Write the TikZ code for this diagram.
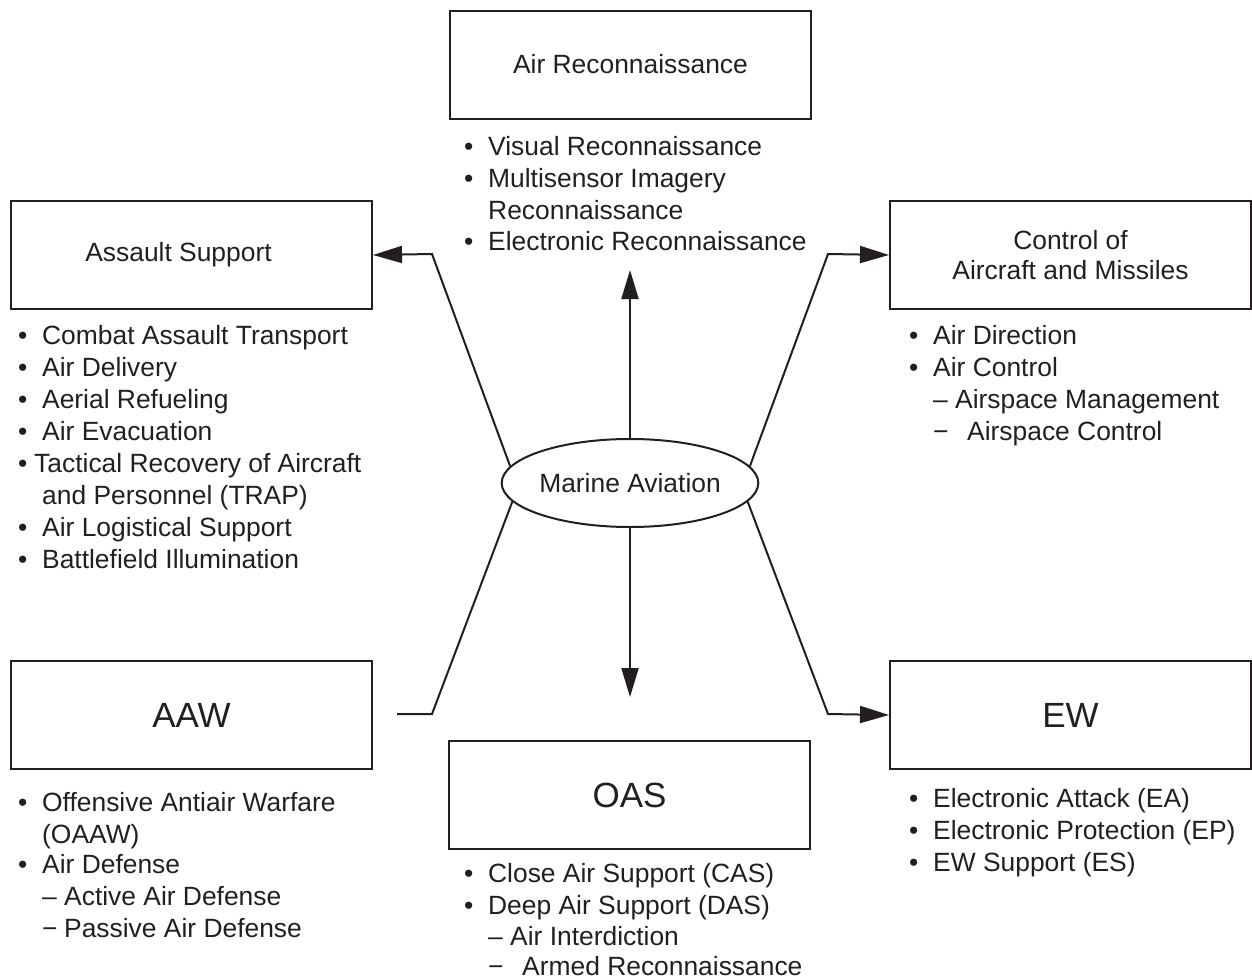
\documentclass[tikz,border=0pt]{standalone}
\usepackage{fontspec}
\setmainfont{Liberation Sans}
\usetikzlibrary{arrows.meta,shapes.geometric}
\definecolor{ink}{HTML}{231F20}
% bullet / dash markers of fixed width so the item texts line up
\newcommand\bl[1]{\makebox[#1][l]{•}}
\newcommand\dl[1]{\makebox[#1][l]{–}}
\newcommand\ml[1]{\makebox[#1][l]{−}}
\newcommand\lbl{\fontsize{26.4}{31.7}\selectfont}
\newcommand\bigtitle{\fontsize{35}{42}\selectfont}
\begin{document}
\begin{tikzpicture}[x=1pt,y=-1pt,
  box/.style={draw=ink,line width=2pt,minimum width=361pt,minimum height=108pt,
    inner sep=0pt,anchor=north west,font=\lbl,text=ink,align=center},
  bigbox/.style={box,font=\bigtitle},
  li/.style={anchor=base west,inner sep=0pt,font=\lbl,text=ink},
  conn/.style={draw=ink,line width=2pt},
  arr/.style={-{Triangle[length=29pt,width=17pt]}}]
\useasboundingbox (0,0) rectangle (1252,979);

% central ellipse
\node[ellipse,draw=ink,line width=2pt,minimum width=240pt,minimum height=88pt,
  inner sep=0pt,font=\lbl,text=ink] (ma) at (630,483) {Marine Aviation};

% function boxes
\node[box] (ar) at (449,10) {\raisebox{3pt}{Air Reconnaissance}};
\node[box] (as) at (10,200) {Assault Support\hspace{26pt}};
\node[box] (ca) at (889,200) {Control of\\[-1pt]Aircraft and Missiles};
\node[bigbox] (aaw) at (10,660) {AAW};
\node[bigbox] (oas) at (448,740) {OAS};
\node[bigbox] (ew) at (889,660) {EW};

% connector bends and free ends
\coordinate (kAS) at (432,254);
\coordinate (kCA) at (828,254);
\coordinate (kAW) at (432,714);
\coordinate (eAW) at (397,714);
\coordinate (kEW) at (828,714);
\coordinate (upTip) at (630,270);
\coordinate (dnTip) at (630,697);

\draw[conn,arr] (ma.north) -- (upTip);
\draw[conn,arr] (ma.south) -- (dnTip);
\draw[conn,arr] (ma.172) -- (kAS) -- (as.east);
\draw[conn,arr] (ma.8) -- (kCA) -- (ca.west);
\draw[conn] (ma.189) -- (kAW) -- (eAW);
\draw[conn,arr] (ma.351) -- (kEW) -- (ew.west);

% Air Reconnaissance items
\node[li] (ar1) at (464,155) {\bl{24pt}Visual Reconnaissance};
\node[li] (ar2) at (464,187) {\bl{24pt}Multisensor Imagery};
\node[li] (ar3) at (488,219) {Reconnaissance};
\node[li] (ar4) at (464,250) {\bl{24pt}Electronic Reconnaissance};

% Assault Support items
\node[li] (as1) at (18,344) {\bl{24pt}Combat Assault Transport};
\node[li] (as2) at (18,376) {\bl{24pt}Air Delivery};
\node[li] (as3) at (18,408) {\bl{24pt}Aerial Refueling};
\node[li] (as4) at (18,440) {\bl{24pt}Air Evacuation};
\node[li] (as5) at (18,472) {\bl{16pt}Tactical Recovery of Aircraft};
\node[li] (as6) at (42,504) {and Personnel (TRAP)};
\node[li] (as7) at (18,536) {\bl{24pt}Air Logistical Support};
\node[li] (as8) at (18,568) {\bl{24pt}Battlefield Illumination};

% Control of Aircraft and Missiles items
\node[li] (ca1) at (909,344) {\bl{24pt}Air Direction};
\node[li] (ca2) at (909,376) {\bl{24pt}Air Control};
\node[li] (ca3) at (933,408) {\dl{22pt}Airspace Management};
\node[li] (ca4) at (933,440) {\ml{34pt}Airspace Control};

% AAW items
\node[li] (aw1) at (18,811) {\bl{24pt}Offensive Antiair Warfare};
\node[li] (aw2) at (42,843) {(OAAW)};
\node[li] (aw3) at (18,873) {\bl{24pt}Air Defense};
\node[li] (aw4) at (42,905) {\dl{22pt}Active Air Defense};
\node[li] (aw5) at (42,937) {\ml{22pt}Passive Air Defense};

% OAS items
\node[li] (os1) at (464,882) {\bl{24pt}Close Air Support (CAS)};
\node[li] (os2) at (464,914) {\bl{24pt}Deep Air Support (DAS)};
\node[li] (os3) at (488,945) {\dl{22pt}Air Interdiction};
\node[li] (os4) at (488,975) {\ml{34pt}Armed Reconnaissance};

% EW items
\node[li] (ew1) at (909,807) {\bl{24pt}Electronic Attack (EA)};
\node[li] (ew2) at (909,839) {\bl{24pt}Electronic Protection (EP)};
\node[li] (ew3) at (909,871) {\bl{24pt}EW Support (ES)};
\end{tikzpicture}
\end{document}
